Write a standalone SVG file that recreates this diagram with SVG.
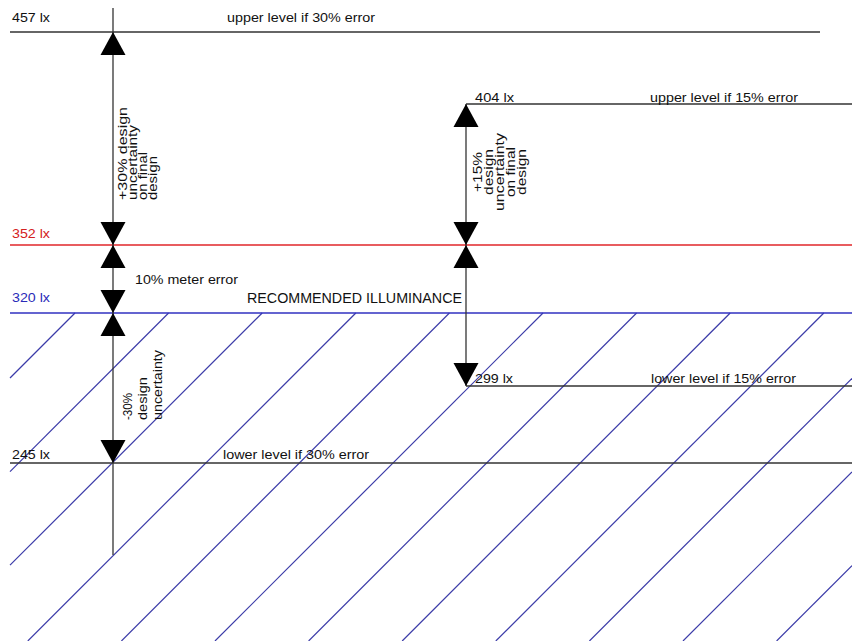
<svg xmlns="http://www.w3.org/2000/svg" xmlns:xlink="http://www.w3.org/1999/xlink" width="852" height="641" viewBox="0 0 852 641">
<style>
text{font-family:"Liberation Sans",Arial,Helvetica,sans-serif;font-size:13px;fill:#111}
.rt{font-size:12px}
.lvl{stroke:#333;stroke-width:1.3;fill:none}
.red{stroke:#e0262a;stroke-width:1.4}
.blue{stroke:#3030c0;stroke-width:1.4}
.hatch line{stroke:#3b3ba8;stroke-width:1.2}
.dim{stroke:#333;stroke-width:1.3}
.arr{fill:#000}
</style>
<defs>
<path id="up" class="arr" d="M0,0 L-12.5,23 L12.5,23 Z"/>
<path id="dn" class="arr" d="M0,0 L-12.5,-23 L12.5,-23 Z"/>
</defs>
<rect width="852" height="641" fill="#fff"/>
<g id="hatch" class="hatch">
<line x1="75" y1="313" x2="10" y2="378"/>
<line x1="168.6" y1="313" x2="10" y2="471.6"/>
<line x1="262.2" y1="313" x2="10" y2="565.2"/>
<line x1="355.8" y1="313" x2="27.8" y2="641"/>
<line x1="449.4" y1="313" x2="121.4" y2="641"/>
<line x1="543" y1="313" x2="215" y2="641"/>
<line x1="636.6" y1="313" x2="308.6" y2="641"/>
<line x1="730.2" y1="313" x2="402.2" y2="641"/>
<line x1="823.8" y1="313" x2="495.8" y2="641"/>
<line x1="852" y1="378.4" x2="589.4" y2="641"/>
<line x1="852" y1="472" x2="683" y2="641"/>
<line x1="852" y1="565.6" x2="776.6" y2="641"/>
</g>
<g id="level-457">
<line class="lvl" x1="10" y1="32" x2="820" y2="32"/>
<text x="12" y="22" textLength="38" lengthAdjust="spacingAndGlyphs">457 lx</text>
<text x="227" y="22" textLength="148" lengthAdjust="spacingAndGlyphs">upper level if 30% error</text>
</g>
<g id="level-404">
<line class="lvl" x1="466" y1="104" x2="852" y2="104"/>
<text x="475" y="102" textLength="39" lengthAdjust="spacingAndGlyphs">404 lx</text>
<text x="650" y="102" textLength="148" lengthAdjust="spacingAndGlyphs">upper level if 15% error</text>
</g>
<g id="level-352">
<line class="red" x1="10" y1="245" x2="852" y2="245"/>
<text x="12" y="238" textLength="38" lengthAdjust="spacingAndGlyphs" style="fill:#d42020">352 lx</text>
</g>
<g id="level-320">
<line class="blue" x1="10" y1="313" x2="852" y2="313"/>
<text x="12" y="302" textLength="38" lengthAdjust="spacingAndGlyphs" style="fill:#2a2ab8">320 lx</text>
<text x="247" y="303" textLength="215" lengthAdjust="spacingAndGlyphs" style="font-size:14px">RECOMMENDED ILLUMINANCE</text>
</g>
<g id="level-299">
<line class="lvl" x1="466" y1="386" x2="852" y2="386"/>
<text x="475" y="383" textLength="38" lengthAdjust="spacingAndGlyphs">299 lx</text>
<text x="651" y="383" textLength="145" lengthAdjust="spacingAndGlyphs">lower level if 15% error</text>
</g>
<g id="level-245">
<line class="lvl" x1="10" y1="463" x2="852" y2="463"/>
<text x="12" y="459" textLength="38" lengthAdjust="spacingAndGlyphs">245 lx</text>
<text x="223" y="459" textLength="146" lengthAdjust="spacingAndGlyphs">lower level if 30% error</text>
</g>
<g id="connectors">
<line class="dim" x1="113" y1="8" x2="113" y2="555"/>
<line class="dim" x1="466" y1="104" x2="466" y2="386"/>
<use xlink:href="#up" x="113" y="32"/>
<use xlink:href="#dn" x="113" y="245"/>
<use xlink:href="#up" x="113" y="245"/>
<use xlink:href="#dn" x="113" y="313"/>
<use xlink:href="#up" x="113" y="313"/>
<use xlink:href="#dn" x="113" y="463"/>
<use xlink:href="#up" x="466" y="104"/>
<use xlink:href="#dn" x="466" y="245"/>
<use xlink:href="#up" x="466" y="245"/>
<use xlink:href="#dn" x="466" y="386"/>
</g>
<g id="label-plus30">
<text class="rt" transform="translate(127,200) rotate(-90)" textLength="93" lengthAdjust="spacingAndGlyphs">+30% design</text>
<text class="rt" transform="translate(137,200) rotate(-90)" textLength="75" lengthAdjust="spacingAndGlyphs">uncertainty</text>
<text class="rt" transform="translate(147,200) rotate(-90)" textLength="48" lengthAdjust="spacingAndGlyphs">on final</text>
<text class="rt" transform="translate(157,200) rotate(-90)" textLength="44" lengthAdjust="spacingAndGlyphs">design</text>
</g>
<g id="label-plus15">
<text class="rt" text-anchor="middle" transform="translate(482,172) rotate(-90)" textLength="40" lengthAdjust="spacingAndGlyphs">+15%</text>
<text class="rt" text-anchor="middle" transform="translate(493,172) rotate(-90)" textLength="46" lengthAdjust="spacingAndGlyphs">design</text>
<text class="rt" text-anchor="middle" transform="translate(504,172) rotate(-90)" textLength="78" lengthAdjust="spacingAndGlyphs">uncertainty</text>
<text class="rt" text-anchor="middle" transform="translate(515,172) rotate(-90)" textLength="50" lengthAdjust="spacingAndGlyphs">on final</text>
<text class="rt" text-anchor="middle" transform="translate(526,172) rotate(-90)" textLength="46" lengthAdjust="spacingAndGlyphs">design</text>
</g>
<g id="label-meter">
<text x="135" y="284" textLength="103" lengthAdjust="spacingAndGlyphs">10% meter error</text>
</g>
<g id="label-minus30">
<text class="rt" transform="translate(132,420) rotate(-90)" textLength="27" lengthAdjust="spacingAndGlyphs">-30%</text>
<text class="rt" transform="translate(147,420) rotate(-90)" textLength="43" lengthAdjust="spacingAndGlyphs">design</text>
<text class="rt" transform="translate(162,420) rotate(-90)" textLength="70" lengthAdjust="spacingAndGlyphs">uncertainty</text>
</g>
</svg>
